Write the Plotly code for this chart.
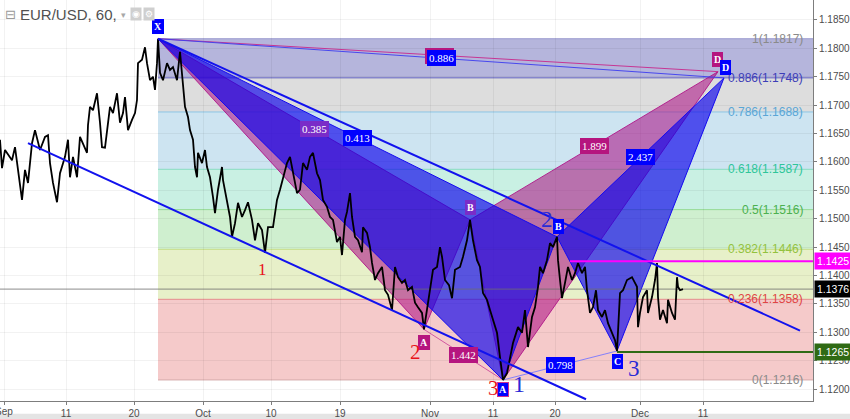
import plotly.graph_objects as go

# ---------------- data ----------------
# x unit: trading days since the start of September (EUR/USD, 60 min bars)
t_price = [0.0, 0.2, 0.5, 1.2, 1.5, 2.0, 2.2, 2.5, 2.8, 3.2, 3.5, 4.0, 4.5, 4.8, 5.0, 5.3, 5.7, 6.0,
           6.5, 6.8, 7.0, 7.3, 7.7, 8.0, 8.3, 8.7, 8.8, 9.0, 9.3, 9.7, 10.0, 10.2, 10.5, 10.7, 11.0,
           11.3, 11.7, 12.0, 12.3, 12.5, 12.8, 13.2, 13.5, 13.7, 13.8, 14.2, 14.5, 14.7, 15.0, 15.3,
           15.5, 15.7, 15.8,
           16.0, 16.3, 16.7, 17.0, 17.3, 17.7, 18.0, 18.2, 18.3, 18.5, 18.8, 19.0, 19.3, 19.5, 19.7,
           19.8, 20.2, 20.5, 20.7, 21.0, 21.3, 21.5, 21.8, 22.2, 22.3, 22.7, 23.0, 23.2, 23.5, 23.8,
           24.2, 24.5, 24.8, 25.2, 25.5, 25.8, 26.2, 26.5, 26.8, 27.3, 27.7, 28.0, 28.3, 28.7, 29.0,
           29.3, 29.7, 30.0, 30.3, 30.7, 31.0, 31.3, 31.7,
           32.0, 32.3, 32.7, 33.0, 33.3, 33.7, 34.0, 34.2, 34.5, 34.7, 35.0, 35.2, 35.5, 35.8, 36.2,
           36.3, 36.7, 37.0, 37.2, 37.5, 37.8, 38.2, 38.5, 38.8, 39.2, 39.5, 39.8, 40.2, 40.5, 40.8,
           41.2, 41.5, 41.8, 42.2, 42.4, 42.7, 43.0, 43.3, 43.7, 44.0, 44.2, 44.5, 44.9, 45.2, 45.5,
           46.0, 46.3, 46.7, 47.0,
           47.3, 47.7, 48.0, 48.3, 48.7, 49.0, 49.3, 49.7, 50.0, 50.3, 50.7, 51.0, 51.3, 51.8, 52.2,
           52.5, 52.8, 53.2, 53.5, 53.8, 54.0, 54.3, 54.7, 55.0, 55.3, 55.7, 55.8, 56.0, 56.2, 56.5,
           56.8, 57.2, 57.5, 57.8, 58.2, 58.5, 58.7, 59.0, 59.3, 59.6, 59.8, 60.2, 60.5, 60.8, 61.2,
           61.5, 61.7,
           62.0, 62.3, 62.7, 63.2, 63.7, 63.8, 64.0, 64.3, 64.7, 64.8, 65.2, 65.5, 65.7, 65.8, 66.0,
           66.3, 66.7, 66.8, 67.2, 67.5, 67.7, 67.8, 68.0, 68.3]
p_price = [1.1639, 1.1589, 1.1621, 1.1603, 1.1626, 1.1563, 1.1533, 1.1586, 1.1563, 1.1633, 1.1656,
           1.1621, 1.1644, 1.1647, 1.1598, 1.1563, 1.1529, 1.1580, 1.1609, 1.1639, 1.1573, 1.1609,
           1.1573, 1.1644, 1.1633, 1.1616, 1.1665, 1.1697, 1.1691, 1.1721, 1.1669, 1.1626, 1.1625,
           1.1656, 1.1697, 1.1686, 1.1721, 1.1669, 1.1686, 1.1714, 1.1656, 1.1674, 1.1686, 1.1709,
           1.1774, 1.1780, 1.1802, 1.1774, 1.1744, 1.1750, 1.1727, 1.1774, 1.1817,
           1.1757, 1.1744, 1.1774, 1.1762, 1.1767, 1.1744, 1.1794, 1.1750, 1.1727, 1.1697, 1.1679,
           1.1656, 1.1639, 1.1591, 1.1573, 1.1616, 1.1598, 1.1621, 1.1591, 1.1573, 1.1538, 1.1510,
           1.1551, 1.1591, 1.1568, 1.1528, 1.1503, 1.1468, 1.1492, 1.1528, 1.1503, 1.1515, 1.1529,
           1.1498, 1.1462, 1.1492, 1.1480, 1.1440, 1.1485, 1.1485, 1.1533, 1.1551, 1.1573, 1.1598,
           1.1609, 1.1580, 1.1545, 1.1551, 1.1598, 1.1586, 1.1609, 1.1616, 1.1580,
           1.1568, 1.1533, 1.1521, 1.1503, 1.1498, 1.1459, 1.1468, 1.1436, 1.1498, 1.1512, 1.1545,
           1.1503, 1.1468, 1.1462, 1.1441, 1.1485, 1.1475, 1.1450, 1.1422, 1.1392, 1.1404, 1.1415,
           1.1374, 1.1366, 1.1339, 1.1415, 1.1397, 1.1387, 1.1392, 1.1374, 1.1380, 1.1352, 1.1344,
           1.1334, 1.1305, 1.1339, 1.1374, 1.1410, 1.1415, 1.1450, 1.1433, 1.1392, 1.1383, 1.1360,
           1.1410, 1.1415, 1.1433, 1.1462, 1.1498,
           1.1462, 1.1427, 1.1415, 1.1369, 1.1357, 1.1339, 1.1322, 1.1299, 1.1256, 1.1216, 1.1228,
           1.1256, 1.1281, 1.1309, 1.1299, 1.1339, 1.1274, 1.1327, 1.1344, 1.1380, 1.1415, 1.1404,
           1.1427, 1.1457, 1.1450, 1.1468, 1.1427, 1.1392, 1.1360, 1.1387, 1.1415, 1.1392, 1.1404,
           1.1422, 1.1404, 1.1415, 1.1374, 1.1334, 1.1344, 1.1374, 1.1339, 1.1327, 1.1339, 1.1316,
           1.1299, 1.1286, 1.1267,
           1.1369, 1.1374, 1.1392, 1.1397, 1.1380, 1.1309, 1.1334, 1.1362, 1.1374, 1.1334, 1.1362,
           1.1392, 1.1422, 1.1362, 1.1322, 1.1339, 1.1316, 1.1357, 1.1334, 1.1322, 1.1397, 1.1380,
           1.1374, 1.1376]

fib_ratio = ["1", "0.886", "0.786", "0.618", "0.5", "0.382", "0.236", "0"]
fib_price = [1.1817, 1.1748, 1.1688, 1.1587, 1.1516, 1.1446, 1.1358, 1.1216]

# harmonic patterns: X, A, B, C, D
pink_t = [15.8, 42.4, 47.0, 50.3, 71.8]
pink_p = [1.1817, 1.1305, 1.1498, 1.1216, 1.1759]
blue_t = [15.8, 50.3, 55.7, 61.7, 72.4]
blue_p = [1.1817, 1.1216, 1.1468, 1.1267, 1.1748]
pink_ratio = ["0.385", "1.442", "1.899", "0.886"]   # XB, AC, BD, XD
blue_ratio = ["0.413", "0.798", "2.437", "0.886"]

wave_text = ["1", "2", "3", "1", "2", "3"]
wave_t = [26.2, 41.5, 49.3, 51.9, 54.7, 63.4]
wave_p = [1.1410, 1.1265, 1.1202, 1.1209, 1.1498, 1.1237]

chan_low_t = [2.8, 58.6]
chan_low_p = [1.1633, 1.1182]
chan_up_t = [15.8, 80.0]
chan_up_p = [1.1817, 1.1303]

last_price = 1.1376
magenta_level = 1.1425
magenta_start = 57.0
green_level = 1.1265

tick_t = [0.4, 6.6, 13.4, 20.3, 27.1, 34.0, 43.0, 49.3, 55.5, 64.0, 70.3]
tick_text = ["Sep", "11", "20", "Oct", "10", "19", "Nov", "11", "20", "Dec", "11"]

# ---------------- styling ----------------
X_MAX = 81.3
Y_RANGE = [1.11789, 1.18852]
band_fill = ["#b5b5dc", "#dddddd", "#cde4f1", "#c9f0e3", "#cfefcf", "#e7f0c9", "#f5caca"]
level_line = ["#9c9cd0", "#6a6ac2", "#8cc5e5", "#86dbc0", "#95da95", "#c6de88", "#e48c8c", "#d4aaaa"]
level_text = ["#8a8a8a", "#3d3db8", "#5aa6d6", "#2fc59a", "#4cb050", "#93c23e", "#e04545", "#8a8a8a"]
PINK_FILL = "rgba(170,10,130,0.55)"
PINK_LINE = "rgba(175,20,135,0.9)"
BLUE_FILL = "rgba(10,0,235,0.65)"
BLUE_LINE = "rgba(20,10,240,1)"
PINK_BOX = "#b5157f"
BLUE_BOX = "#0000ff"
SERIF = "Liberation Serif, Times New Roman, serif"
SANS = "Liberation Sans, Arial, sans-serif"

fig = go.Figure()
shapes = []
for i in range(7):
    shapes.append(dict(type="rect", xref="x", yref="y", x0=pink_t[0], x1=X_MAX,
                       y0=fib_price[i + 1], y1=fib_price[i], fillcolor=band_fill[i],
                       line=dict(width=0), layer="below"))
for i, lv in enumerate(fib_price):
    shapes.append(dict(type="line", xref="x", yref="y", x0=pink_t[0], x1=X_MAX, y0=lv, y1=lv,
                       line=dict(color=level_line[i], width=1), layer="below"))
# bottom grey strip of the widget
shapes.append(dict(type="rect", xref="paper", yref="paper", x0=-0.01, x1=1.06, y0=-0.06, y1=-0.032,
                   fillcolor="#e4e4e4", line=dict(width=0), layer="below"))


def poly(ts, ps, idx, fill, line):
    xs = [ts[i] for i in idx] + [ts[idx[0]]]
    ys = [ps[i] for i in idx] + [ps[idx[0]]]
    fig.add_trace(go.Scatter(x=xs, y=ys, mode="lines", fill="toself", fillcolor=fill,
                             line=dict(color=line, width=1), hoverinfo="skip", showlegend=False))


def seg(xs, ys, color, width, dash="solid"):
    fig.add_trace(go.Scatter(x=xs, y=ys, mode="lines", line=dict(color=color, width=width, dash=dash),
                             hoverinfo="skip", showlegend=False))


# pink pattern
poly(pink_t, pink_p, [0, 1, 2], PINK_FILL, PINK_LINE)
poly(pink_t, pink_p, [2, 3, 4], PINK_FILL, PINK_LINE)
seg([pink_t[1], pink_t[3]], [pink_p[1], pink_p[3]], "rgba(200,60,150,0.8)", 1)
seg([pink_t[0], pink_t[4]], [pink_p[0], pink_p[4]], "rgba(200,40,140,0.9)", 1)
# blue pattern
poly(blue_t, blue_p, [0, 1, 2], BLUE_FILL, BLUE_LINE)
poly(blue_t, blue_p, [2, 3, 4], BLUE_FILL, BLUE_LINE)
seg([blue_t[1], blue_t[3]], [blue_p[1], blue_p[3]], "rgba(120,120,255,0.9)", 1)
seg([blue_t[0], blue_t[4]], [blue_p[0], blue_p[4]], "rgba(60,60,240,0.9)", 1)

# current price line
seg([0, X_MAX], [last_price, last_price], "rgba(110,110,110,0.8)", 1)
# price
fig.add_trace(go.Scatter(x=t_price, y=p_price, mode="lines", line=dict(color="#000000", width=1.8),
                         hoverinfo="skip", showlegend=False))
# channel lines
seg(chan_low_t, chan_low_p, "#1212ee", 2)
seg(chan_up_t, chan_up_p, "#1212ee", 2)
# horizontal levels
seg([magenta_start, X_MAX], [magenta_level, magenta_level], "#ff00ff", 2)
seg([blue_t[3], X_MAX], [green_level, green_level], "#2f6a14", 2)

ann = []
# fib labels
for r, lv, c in zip(fib_ratio, fib_price, level_text):
    ann.append(dict(x=80.5, y=lv, xref="x", yref="y", xanchor="right", yanchor="middle",
                    text=f"{r}({lv:.4f})", showarrow=False, font=dict(family=SANS, size=12, color=c)))


def box(x, y, text, bg, size=11, xs=0, ys=0, bold=False, border=None):
    ann.append(dict(x=x, y=y, xref="x", yref="y", text=f"<b>{text}</b>" if bold else text,
                    showarrow=False, bgcolor=bg, bordercolor=border or bg, borderwidth=1, borderpad=1,
                    xshift=xs, yshift=ys, font=dict(family=SERIF, size=size, color="white")))


def mid(ts, ps, i, j):
    return (ts[i] + ts[j]) / 2, (ps[i] + ps[j]) / 2


# ratio labels (XB, AC, BD, XD)
pairs = [(0, 2), (1, 3), (2, 4), (0, 4)]
pink_colors = ["#7a2cc8", PINK_BOX, PINK_BOX, PINK_BOX]
for (i, j), txt, col in zip(pairs, pink_ratio, pink_colors):
    mx, my = mid(pink_t, pink_p, i, j)
    is_xd = (i, j) == (0, 4)
    box(mx, my, txt, col, xs=(1 if is_xd else 0), ys=(-1 if is_xd else 0))
for (i, j), txt in zip(pairs, blue_ratio):
    mx, my = mid(blue_t, blue_p, i, j)
    box(mx, my, txt, BLUE_BOX)

# point labels
box(pink_t[1], pink_p[1], "A", PINK_BOX, 10, ys=-13, bold=True)
box(pink_t[2], pink_p[2], "B", "#7a2cc8", 10, ys=12, bold=True)
box(pink_t[4], pink_p[4], "D", PINK_BOX, 10, xs=-1, ys=12, bold=True)
box(blue_t[0], blue_p[0], "X", BLUE_BOX, 10, ys=12, bold=True)
box(blue_t[1], blue_p[1], "A", BLUE_BOX, 10, ys=-10, bold=True, border="#d0308f")
box(blue_t[2], blue_p[2], "B", BLUE_BOX, 10, xs=1, ys=10, bold=True)
box(blue_t[3], blue_p[3], "C", BLUE_BOX, 10, ys=-11, bold=True)
box(blue_t[4], blue_p[4], "D", BLUE_BOX, 10, xs=1, ys=10, bold=True)

# wave labels
wave_col = ["#e8131a"] * 3 + ["#2a2ad6"] * 3
wave_size = [17, 21, 21, 24, 23, 23]
for tx, x, y, c, s in zip(wave_text, wave_t, wave_p, wave_col, wave_size):
    ann.append(dict(x=x, y=y, xref="x", yref="y", text=tx, showarrow=False,
                    font=dict(family=SERIF, size=s, color=c)))

# first x tick label, partly cut at the left edge as in the reference
ann.append(dict(x=tick_t[0], y=0, xref="x", yref="paper", yanchor="top", yshift=-3,
                text=tick_text[0], showarrow=False,
                font=dict(family=SANS, size=10, color="#4d4d4d")))

# price-axis labels
for val, bg in [(magenta_level, "#ff00ff"), (last_price, "#000000"), (green_level, "#2f6a14")]:
    ann.append(dict(x=1, y=val, xref="paper", yref="y", xanchor="left", yanchor="middle",
                    text=f"{val:.4f}", showarrow=False, bgcolor=bg, borderpad=2, xshift=1,
                    font=dict(family=SANS, size=10.5, color="white")))

# title / header
ann.append(dict(x=0, y=1, xref="paper", yref="paper", xanchor="left", yanchor="top", xshift=3, yshift=-5,
                text="⊟", showarrow=False, font=dict(family="DejaVu Sans", size=13, color="#9a9a9a")))
ann.append(dict(x=0, y=1, xref="paper", yref="paper", xanchor="left", yanchor="top", xshift=18, yshift=-4,
                text="EUR/USD, 60,", showarrow=False, font=dict(family=SANS, size=15, color="#505050")))
ann.append(dict(x=0, y=1, xref="paper", yref="paper", xanchor="left", yanchor="top", xshift=119, yshift=-8,
                text="▾", showarrow=False, font=dict(family="DejaVu Sans", size=9, color="#a8a8a8")))
ann.append(dict(x=0, y=1, xref="paper", yref="paper", xanchor="left", yanchor="top", xshift=130, yshift=-7,
                text="◉", showarrow=False, bgcolor="#cfcfcf", borderpad=1,
                font=dict(family="DejaVu Sans", size=9, color="white")))
ann.append(dict(x=0, y=1, xref="paper", yref="paper", xanchor="left", yanchor="top", xshift=143, yshift=-7,
                text="⚙", showarrow=False, bgcolor="#cfcfcf", borderpad=1,
                font=dict(family="DejaVu Sans", size=9, color="white")))

fig.update_layout(
    template="none",
    width=850, height=419,
    margin=dict(l=0, r=37, t=0, b=18),
    paper_bgcolor="white", plot_bgcolor="white",
    shapes=shapes, annotations=ann, showlegend=False,
    xaxis=dict(range=[0, X_MAX], tickvals=tick_t, ticktext=tick_text, showgrid=True,
               gridcolor="rgba(0,0,0,0.05)", zeroline=False, showline=True, linecolor="#7d7d7d",
               ticks="outside", ticklen=3, tickcolor="#7d7d7d", automargin=False,
               tickfont=dict(family=SANS, size=10, color="#4d4d4d")),
    yaxis=dict(range=Y_RANGE, side="right", dtick=0.005, tick0=1.12, tickformat=".4f", showgrid=True,
               gridcolor="rgba(0,0,0,0.05)", zeroline=False, showline=True, linecolor="#7d7d7d",
               ticks="outside", ticklen=3, tickcolor="#7d7d7d", automargin=False,
               tickfont=dict(family=SANS, size=10, color="#4d4d4d")),
)

fig.write_html("out.html", config={"displayModeBar": False},
               post_script="document.body.style.margin='0px';document.body.style.overflow='hidden';")
